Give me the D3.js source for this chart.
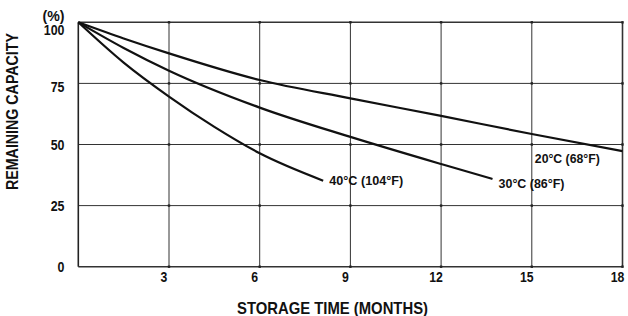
<!DOCTYPE html>
<html><head><meta charset="utf-8">
<script src="https://cdn.jsdelivr.net/npm/d3@7"></script>
<style>
html,body{margin:0;padding:0;background:#fff;}
text{font-family:"Liberation Sans",Arial,Helvetica,sans-serif;font-weight:bold;fill:#111;}
</style></head>
<body><svg id="c" width="628" height="316"></svg>
<script>
const xTicks = [3, 6, 9, 12, 15, 18];
const yTicks = [0, 25, 50, 75, 100];
const series20 = [[0,100],[1.5,93.4],[3,87.3],[6,76.4],[9,68.9],[12,61.7],[15,54.3],[18,47.3]];
const series30 = [[0,100],[1.5,89.5],[3,80.2],[6,65.1],[9,53.1],[12,42.0],[13.7,35.9]];
const series40 = [[0,100],[1.5,83.5],[3,69.6],[4.5,57.2],[6,46.4],[8.1,35.2]];
const labels = [
  {text:"20\u00b0C (68\u00b0F)", at:[15.1,42.3], w:65},
  {text:"30\u00b0C (86\u00b0F)", at:[13.9,32.3], w:66},
  {text:"40\u00b0C (104\u00b0F)", at:[8.3,33.3], w:74}
];

const svg = d3.select("#c");
const x = d3.scaleLinear().domain([0,18]).range([78.3,622.5]);
const y = d3.scaleLinear().domain([0,100]).range([266.7,22.3]);

// grid
const g = svg.append("g");
g.selectAll(".vx").data(xTicks).enter().append("line")
  .attr("x1",d=>x(d)).attr("x2",d=>x(d)).attr("y1",y(0)).attr("y2",y(100))
  .attr("stroke","#333").attr("stroke-width",d=>d===18?1.6:1);
g.selectAll(".hy").data(yTicks).enter().append("line")
  .attr("x1",x(0)).attr("x2",x(18)).attr("y1",d=>y(d)).attr("y2",d=>y(d))
  .attr("stroke","#333").attr("stroke-width",d=>(d===0||d===100)?1.6:1);
g.append("line").attr("x1",x(0)).attr("x2",x(0)).attr("y1",y(0)).attr("y2",y(100))
  .attr("stroke","#222").attr("stroke-width",1.6);

// small dots at intersections
const pts = [];
xTicks.forEach(a=>yTicks.forEach(b=>pts.push([a,b])));
g.selectAll(".dot").data(pts).enter().append("rect")
  .attr("x",d=>x(d[0])-1.2).attr("y",d=>y(d[1])-1.2).attr("width",2.4).attr("height",2.4).attr("fill","#222");

// tick labels
svg.selectAll(".xl").data(xTicks).enter().append("text")
  .attr("x",d=>x(d)-5).attr("y",281.5).attr("text-anchor","middle")
  .attr("textLength",d=>String(d).length*6.8).attr("lengthAdjust","spacingAndGlyphs")
  .style("font-size","14.8px").text(d=>d);
svg.selectAll(".yl").data(yTicks).enter().append("text")
  .attr("x",64.5).attr("y",d=>y(d)+(d===100?13:(d===75?8.5:5.5)))
  .attr("text-anchor","end")
  .attr("textLength",d=>String(d).length*6.9).attr("lengthAdjust","spacingAndGlyphs")
  .style("font-size","14.8px").text(d=>d);
svg.append("text").attr("x",64.5).attr("y",20.5).attr("text-anchor","end")
  .attr("textLength",22).attr("lengthAdjust","spacingAndGlyphs")
  .style("font-size","14px").text("(%)");

// axis titles
svg.append("text").attr("x",332.5).attr("y",313.5).attr("text-anchor","middle")
  .attr("textLength",191).attr("lengthAdjust","spacingAndGlyphs")
  .style("font-size","17px").text("STORAGE TIME (MONTHS)");
svg.append("text").attr("transform","translate(18,111.5) rotate(-90)").attr("text-anchor","middle")
  .attr("textLength",157).attr("lengthAdjust","spacingAndGlyphs")
  .style("font-size","16px").text("REMAINING CAPACITY");

// curves
const line = d3.line().x(d=>x(d[0])).y(d=>y(d[1])).curve(d3.curveMonotoneX);
[series20,series30,series40].forEach(s=>{
  svg.append("path").attr("d",line(s)).attr("fill","none").attr("stroke","#111").attr("stroke-width",2.2);
});

// curve labels
svg.selectAll(".cl").data(labels).enter().append("text")
  .attr("x",d=>x(d.at[0])).attr("y",d=>y(d.at[1]))
  .attr("textLength",d=>d.w).attr("lengthAdjust","spacingAndGlyphs")
  .style("font-size","13.6px").text(d=>d.text);
</script></body></html>
